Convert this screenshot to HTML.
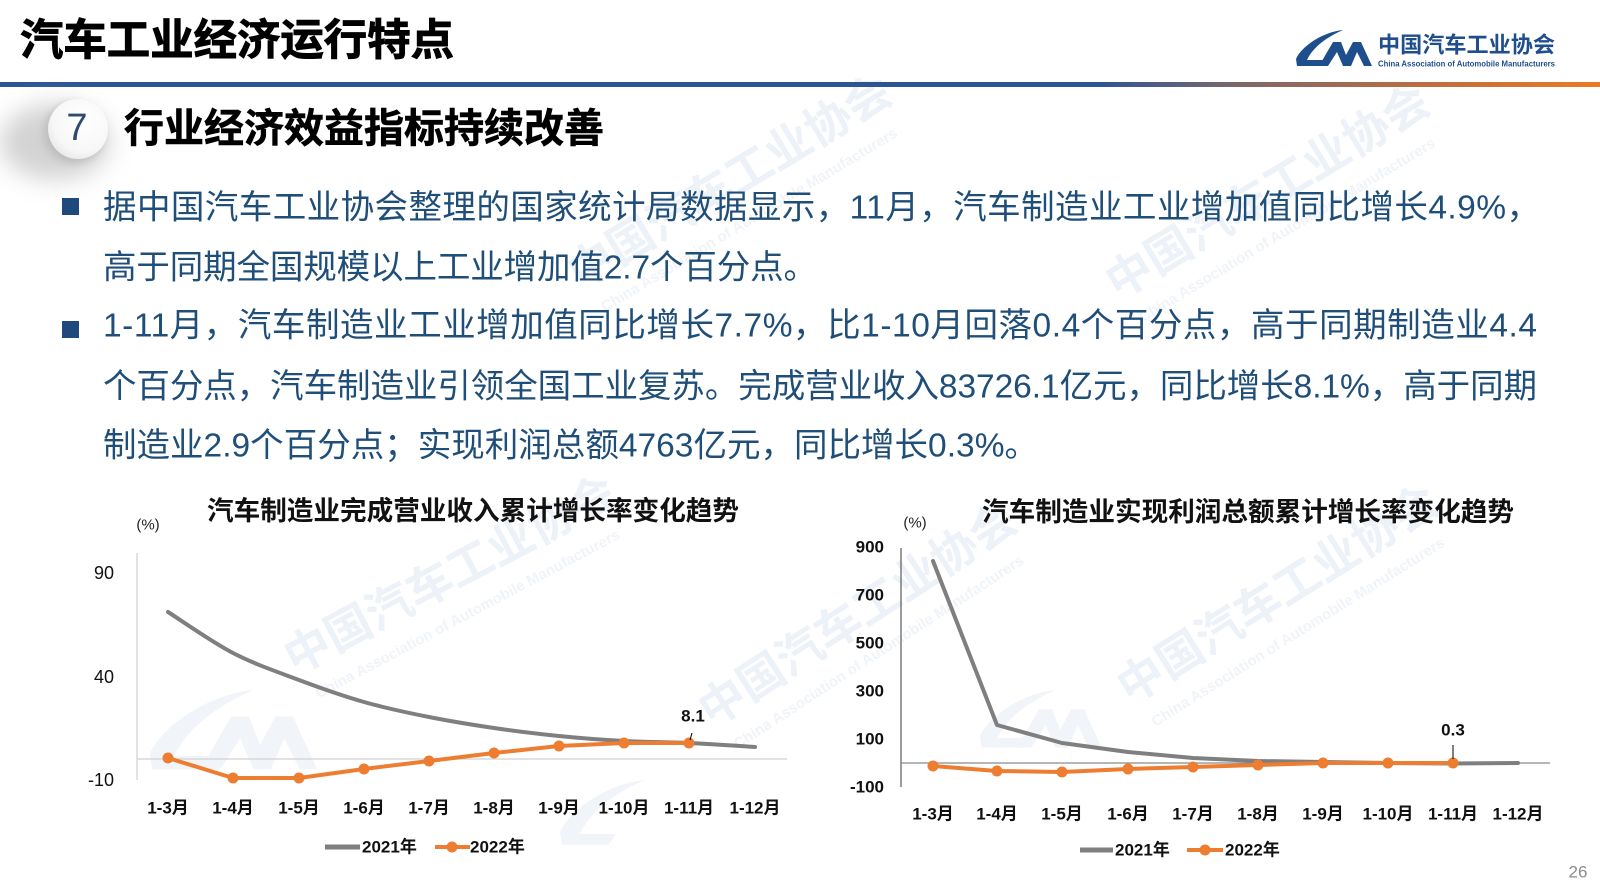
<!DOCTYPE html>
<html>
<head>
<meta charset="utf-8">
<style>
html,body{margin:0;padding:0;background:#fff;}
body{width:1600px;height:895px;overflow:hidden;}
svg{display:block;}
</style>
</head>
<body>
<svg width="1600" height="895" viewBox="0 0 1600 895" xmlns="http://www.w3.org/2000/svg" font-family="'Liberation Sans','Noto Sans CJK SC',sans-serif">
<defs>
  <linearGradient id="bar" gradientUnits="userSpaceOnUse" x1="1100" y1="0" x2="1600" y2="0">
    <stop offset="0" stop-color="#2e5496"/>
    <stop offset="0.25" stop-color="#76676e"/>
    <stop offset="0.6" stop-color="#b56c45"/>
    <stop offset="1" stop-color="#ea7a24"/>
  </linearGradient>
  <filter id="blur" x="-50%" y="-50%" width="200%" height="200%">
    <feGaussianBlur stdDeviation="12"/>
  </filter>
  <filter id="blur2" x="-50%" y="-50%" width="200%" height="200%">
    <feGaussianBlur stdDeviation="4"/>
  </filter>
  <radialGradient id="circ" cx="0.6" cy="0.35" r="0.75">
    <stop offset="0" stop-color="#ffffff"/>
    <stop offset="0.7" stop-color="#f7f7f7"/>
    <stop offset="1" stop-color="#e4e4e4"/>
  </radialGradient>
</defs>

<rect x="0" y="0" width="1600" height="895" fill="#ffffff"/>

<!-- faint background logos -->
<g fill="#f1f4f8">
  <g transform="translate(150,690) scale(2.2)">
    <path d="M47,0 C26,2 5,17 0,29 L1,36 L27,36 L31,30 L11,30 C17,17 31,7 47,0 Z"/>
    <path d="M23,36 L37,12 L45,12 L50,25 L57,12 L65,12 L76,36 L68,36 L61,22 L55,36 L47,36 L41,22 L32,36 Z"/>
  </g>
  <g transform="translate(980,690) scale(1.6)">
    <path d="M47,0 C26,2 5,17 0,29 L1,36 L27,36 L31,30 L11,30 C17,17 31,7 47,0 Z"/>
    <path d="M23,36 L37,12 L45,12 L50,25 L57,12 L65,12 L76,36 L68,36 L61,22 L55,36 L47,36 L41,22 L32,36 Z"/>
  </g>
  <g transform="translate(560,780) scale(1.8)">
    <path d="M47,0 C26,2 5,17 0,29 L1,36 L27,36 L31,30 L11,30 C17,17 31,7 47,0 Z"/>
  </g>
</g>

<!-- watermarks -->
<g font-weight="bold" fill="#edf2f8">
  <g transform="translate(295,675) rotate(-28)">
    <text x="0" y="0" font-size="46">中国汽车工业协会</text>
    <text x="10" y="32" font-size="15" fill="#f0f4f9">China Association of Automobile Manufacturers</text>
  </g>
  <g transform="translate(712,728) rotate(-33)">
    <text x="0" y="0" font-size="46">中国汽车工业协会</text>
    <text x="10" y="32" font-size="15" fill="#f0f4f9">China Association of Automobile Manufacturers</text>
  </g>
  <g transform="translate(1130,705) rotate(-32)">
    <text x="0" y="0" font-size="46">中国汽车工业协会</text>
    <text x="10" y="32" font-size="15" fill="#f0f4f9">China Association of Automobile Manufacturers</text>
  </g>
  <g transform="translate(1118,300) rotate(-31)">
    <text x="0" y="0" font-size="46">中国汽车工业协会</text>
    <text x="10" y="32" font-size="15" fill="#f0f4f9">China Association of Automobile Manufacturers</text>
  </g>
  <g transform="translate(580,290) rotate(-31)">
    <text x="0" y="0" font-size="46">中国汽车工业协会</text>
    <text x="10" y="32" font-size="15" fill="#f0f4f9">China Association of Automobile Manufacturers</text>
  </g>
</g>

<!-- header -->
<text x="20" y="41" font-size="43" font-weight="bold" fill="#000" stroke="#000" stroke-width="0.9" dominant-baseline="central" textLength="434" lengthAdjust="spacingAndGlyphs">汽车工业经济运行特点</text>

<!-- logo -->
<g fill="#1f4e8c">
  <path d="M1343,30 C1322,32 1301,47 1296,59 L1297,66 L1323,66 L1327,60 L1307,60 C1313,47 1327,37 1343,30 Z"/>
  <path d="M1319,66 L1333,42 L1341,42 L1346,55 L1353,42 L1361,42 L1372,66 L1364,66 L1357,52 L1351,66 L1343,66 L1337,52 L1328,66 Z"/>
  <text x="1378" y="45" font-size="22" font-weight="bold" dominant-baseline="central" textLength="177" lengthAdjust="spacingAndGlyphs">中国汽车工业协会</text>
  <text x="1378" y="64" font-size="8" font-weight="bold" dominant-baseline="central" textLength="177" lengthAdjust="spacingAndGlyphs">China Association of Automobile Manufacturers</text>
</g>

<!-- divider bar -->
<rect x="0" y="82" width="1600" height="5" fill="url(#bar)"/>

<!-- section circle -->
<ellipse cx="55" cy="142" rx="55" ry="38" fill="#c8c8c8" filter="url(#blur)" opacity="0.8"/>
<circle cx="74" cy="133" r="30" fill="#bdbdbd" filter="url(#blur2)"/>
<circle cx="78" cy="129" r="30" fill="url(#circ)"/>
<text x="77" y="128" font-size="38" fill="#2f4a6f" text-anchor="middle" dominant-baseline="central">7</text>
<text x="124" y="129" font-size="40" font-weight="bold" fill="#000" stroke="#000" stroke-width="0.6" dominant-baseline="central" textLength="480" lengthAdjust="spacingAndGlyphs">行业经济效益指标持续改善</text>

<!-- bullets -->
<rect x="62" y="198" width="17" height="17" fill="#1f497d"/>
<rect x="62" y="321" width="17" height="17" fill="#1f497d"/>
<g font-size="33.5" fill="#1f4e79" dominant-baseline="central">
  <text x="103" y="208" textLength="1437" lengthAdjust="spacing">据中国汽车工业协会整理的国家统计局数据显示，11月，汽车制造业工业增加值同比增长4.9%，</text>
  <text x="103" y="268" textLength="714" lengthAdjust="spacing">高于同期全国规模以上工业增加值2.7个百分点。</text>
  <text x="103" y="326" textLength="1434" lengthAdjust="spacing">1-11月，汽车制造业工业增加值同比增长7.7%，比1-10月回落0.4个百分点，高于同期制造业4.4</text>
  <text x="103" y="387" textLength="1434" lengthAdjust="spacing">个百分点，汽车制造业引领全国工业复苏。完成营业收入83726.1亿元，同比增长8.1%，高于同期</text>
  <text x="103" y="446" textLength="935" lengthAdjust="spacing">制造业2.9个百分点；实现利润总额4763亿元，同比增长0.3%。</text>
</g>

<!-- LEFT CHART -->
<text x="207" y="511" font-size="26.5" font-weight="bold" fill="#111" dominant-baseline="central" textLength="532" lengthAdjust="spacingAndGlyphs">汽车制造业完成营业收入累计增长率变化趋势</text>
<text x="148" y="525" font-size="15" fill="#222" text-anchor="middle" dominant-baseline="central">(%)</text>
<g font-size="18" fill="#111" text-anchor="end" dominant-baseline="central">
  <text x="114" y="573">90</text>
  <text x="114" y="677">40</text>
  <text x="114" y="780">-10</text>
</g>
<line x1="137" y1="553" x2="137" y2="780" stroke="#d0d0d0" stroke-width="1.2"/>
<line x1="137" y1="759" x2="787" y2="759" stroke="#d0d0d0" stroke-width="1.2"/>
<path d="M168,612 C178.8,618.8 211.2,641.7 233,653 C254.8,664.3 277.2,671.8 299,680 C320.8,688.2 342.3,695.8 364,702 C385.7,708.2 407.3,712.7 429,717 C450.7,721.3 472.3,724.8 494,728 C515.7,731.2 537.3,733.8 559,736 C580.7,738.2 602.3,739.8 624,741 C645.7,742.2 667.2,742 689,743 C710.8,744 744,746.3 755,747" fill="none" stroke="#7f7f7f" stroke-width="4" stroke-linecap="round"/>
<polyline points="168,758 233,778 299,778 364,769 429,761 494,753 559,746 624,743 689,743" fill="none" stroke="#ed7d31" stroke-width="4" stroke-linejoin="round"/>
<g fill="#ed7d31">
  <circle cx="168" cy="758" r="5.5"/><circle cx="233" cy="778" r="5.5"/><circle cx="299" cy="778" r="5.5"/>
  <circle cx="364" cy="769" r="5.5"/><circle cx="429" cy="761" r="5.5"/><circle cx="494" cy="753" r="5.5"/>
  <circle cx="559" cy="746" r="5.5"/><circle cx="624" cy="743" r="5.5"/><circle cx="689" cy="743" r="5.5"/>
</g>
<line x1="692" y1="733" x2="690" y2="740" stroke="#000" stroke-width="1"/>
<text x="693" y="716" font-size="17" font-weight="bold" fill="#111" text-anchor="middle" dominant-baseline="central">8.1</text>
<g font-size="17" font-weight="bold" fill="#111" text-anchor="middle" dominant-baseline="central">
  <text x="168" y="808">1-3月</text><text x="233" y="808">1-4月</text><text x="299" y="808">1-5月</text>
  <text x="364" y="808">1-6月</text><text x="429" y="808">1-7月</text><text x="494" y="808">1-8月</text>
  <text x="559" y="808">1-9月</text><text x="624" y="808">1-10月</text><text x="689" y="808">1-11月</text>
  <text x="755" y="808">1-12月</text>
</g>
<line x1="325" y1="847" x2="360" y2="847" stroke="#7f7f7f" stroke-width="5"/>
<text x="362" y="847" font-size="17" font-weight="bold" fill="#111" dominant-baseline="central">2021年</text>
<line x1="435" y1="847" x2="470" y2="847" stroke="#ed7d31" stroke-width="4"/>
<circle cx="452" cy="847" r="5.5" fill="#ed7d31"/>
<text x="470" y="847" font-size="17" font-weight="bold" fill="#111" dominant-baseline="central">2022年</text>

<!-- RIGHT CHART -->
<text x="982" y="512" font-size="26.5" font-weight="bold" fill="#111" dominant-baseline="central" textLength="532" lengthAdjust="spacingAndGlyphs">汽车制造业实现利润总额累计增长率变化趋势</text>
<text x="915" y="523" font-size="15" fill="#222" text-anchor="middle" dominant-baseline="central">(%)</text>
<g font-size="17" font-weight="bold" fill="#111" text-anchor="end" dominant-baseline="central">
  <text x="884" y="547">900</text>
  <text x="884" y="595">700</text>
  <text x="884" y="643">500</text>
  <text x="884" y="691">300</text>
  <text x="884" y="739">100</text>
  <text x="884" y="787">-100</text>
</g>
<line x1="901" y1="548" x2="901" y2="787" stroke="#595959" stroke-width="1.2"/>
<line x1="901" y1="763" x2="1550" y2="763" stroke="#8a8a8a" stroke-width="1.2"/>
<polyline points="933,561 997,725 1062,743 1128,752 1193,758 1258,761 1323,762 1388,763 1453,763.5 1518,763" fill="none" stroke="#7f7f7f" stroke-width="4" stroke-linejoin="round" stroke-linecap="round"/>
<polyline points="933,766 997,771 1062,772 1128,769 1193,767 1258,765 1323,763 1388,763 1453,763" fill="none" stroke="#ed7d31" stroke-width="4" stroke-linejoin="round"/>
<g fill="#ed7d31">
  <circle cx="933" cy="766" r="5.5"/><circle cx="997" cy="771" r="5.5"/><circle cx="1062" cy="772" r="5.5"/>
  <circle cx="1128" cy="769" r="5.5"/><circle cx="1193" cy="767" r="5.5"/><circle cx="1258" cy="765" r="5.5"/>
  <circle cx="1323" cy="763" r="5.5"/><circle cx="1388" cy="763" r="5.5"/><circle cx="1453" cy="763" r="5.5"/>
</g>
<line x1="1453" y1="745" x2="1453" y2="759" stroke="#000" stroke-width="1"/>
<text x="1453" y="730" font-size="17" font-weight="bold" fill="#111" text-anchor="middle" dominant-baseline="central">0.3</text>
<g font-size="17" font-weight="bold" fill="#111" text-anchor="middle" dominant-baseline="central">
  <text x="933" y="814">1-3月</text><text x="997" y="814">1-4月</text><text x="1062" y="814">1-5月</text>
  <text x="1128" y="814">1-6月</text><text x="1193" y="814">1-7月</text><text x="1258" y="814">1-8月</text>
  <text x="1323" y="814">1-9月</text><text x="1388" y="814">1-10月</text><text x="1453" y="814">1-11月</text>
  <text x="1518" y="814">1-12月</text>
</g>
<line x1="1080" y1="850" x2="1113" y2="850" stroke="#7f7f7f" stroke-width="5"/>
<text x="1115" y="850" font-size="17" font-weight="bold" fill="#111" dominant-baseline="central">2021年</text>
<line x1="1187" y1="850" x2="1223" y2="850" stroke="#ed7d31" stroke-width="4"/>
<circle cx="1205" cy="850" r="5.5" fill="#ed7d31"/>
<text x="1225" y="850" font-size="17" font-weight="bold" fill="#111" dominant-baseline="central">2022年</text>

<!-- page number -->
<text x="1578" y="872" font-size="17" fill="#8c8c8c" text-anchor="middle" dominant-baseline="central">26</text>
</svg>
</body>
</html>
